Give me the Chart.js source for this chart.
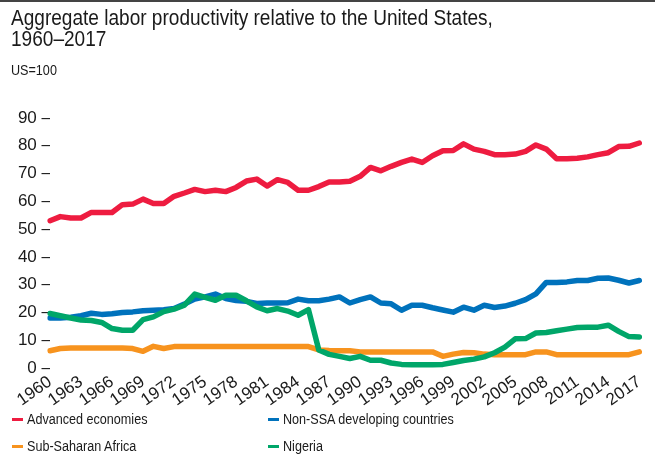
<!DOCTYPE html>
<html>
<head>
<meta charset="utf-8">
<script src="https://cdn.jsdelivr.net/npm/chart.js@4"></script>
<style>
  html, body { margin: 0; padding: 0; background: #fff; }
  #wrap { position: relative; width: 655px; height: 457px; overflow: hidden; font-family: "Liberation Sans", Arial, sans-serif; color: #1a1a1a; }
  #topline { position: absolute; left: 0; top: 0; width: 655px; height: 2px; background: #444; }
  .sq { transform-origin: 0 0; transform: scaleX(0.9); white-space: nowrap; }
  #title { position: absolute; left: 11px; top: 7px; font-size: 22px; line-height: 21px; transform: scaleX(0.866); }
  #sub { position: absolute; left: 11px; top: 62px; font-size: 14px; line-height: 16px; }
  canvas { position: absolute; left: 0; top: 0; }
  #legend { position: absolute; left: 12px; top: 411px; width: 643px; display: grid; grid-template-columns: 256px 380px; row-gap: 11px; font-size: 14px; line-height: 16px; }
  .item { display: flex; align-items: center; }
  .mk { display: inline-block; width: 11px; height: 3px; margin-right: 4px; flex: none; }
</style>
</head>
<body>
<div id="wrap">
  <div id="topline"></div>
  <canvas id="c" width="655" height="457"></canvas>
  <div id="title" class="sq">Aggregate labor productivity relative to the United States,<br>1960–2017</div>
  <div id="sub" class="sq">US=100</div>
  <div id="legend"></div>
</div>
<script>
const years = [];
for (let y = 1960; y <= 2017; y++) years.push(String(y));

const seriesNames = ["Advanced economies", "Non-SSA developing countries", "Sub-Saharan Africa", "Nigeria"];
const seriesColors = ["#EE1C40", "#0072BC", "#F7931E", "#00A669"];

const advanced = [53, 54.5, 54, 54, 56, 56, 56, 58.8, 59, 60.8, 59.2, 59.2, 61.8, 63, 64.3, 63.5, 64, 63.5, 65, 67.3,
  68, 65.5, 67.8, 66.8, 64, 64, 65.3, 67, 67, 67.2, 69, 72.2, 71, 72.6, 74, 75.2, 74, 76.4, 78.2, 78.3,
  80.7, 78.8, 78, 76.8, 76.8, 77, 78, 80.3, 78.8, 75.3, 75.3, 75.5, 76, 76.8, 77.5, 79.7, 79.8, 81];

const nonSSA = [18, 18, 18.3, 18.8, 19.7, 19.3, 19.5, 20, 20.2, 20.6, 20.8, 21, 21.4, 23, 24.8, 25.6, 26.6, 25, 24.3, 24,
  23.2, 23.4, 23.4, 23.5, 24.8, 24.2, 24.2, 24.8, 25.6, 23.4, 24.6, 25.6, 23.4, 23.1, 20.8, 22.6, 22.6, 21.7, 20.9, 20.1,
  21.9, 20.8, 22.6, 21.8, 22.3, 23.3, 24.6, 26.7, 30.8, 30.8, 31, 31.5, 31.5, 32.3, 32.4, 31.6, 30.6, 31.5];

const ssa = [6.2, 7, 7.2, 7.2, 7.2, 7.2, 7.2, 7.2, 7, 6, 7.8, 7, 7.7, 7.7, 7.7, 7.7, 7.7, 7.7, 7.7, 7.7,
  7.7, 7.7, 7.7, 7.7, 7.7, 7.7, 6.5, 6.3, 6.2, 6.2, 5.8, 5.8, 5.8, 5.8, 5.8, 5.8, 5.8, 5.8, 4.2, 5,
  5.6, 5.5, 5, 4.8, 4.8, 4.8, 4.8, 5.8, 5.8, 4.8, 4.8, 4.8, 4.8, 4.8, 4.8, 4.8, 4.8, 5.8];

const nigeria = [19.6, 18.8, 18, 17.3, 17.1, 16.4, 14.2, 13.6, 13.6, 17.4, 18.4, 20.3, 21.2, 22.6, 26.6, 25.4, 24.4, 26.2, 26.2, 24.2,
  22, 20.6, 21.4, 20.5, 19, 21, 6.5, 4.9, 4.2, 3.4, 4.2, 2.8, 2.8, 1.8, 1.3, 1.2, 1.2, 1.2, 1.3, 2,
  2.7, 3.2, 4, 5.5, 7.5, 10.5, 10.6, 12.6, 12.8, 13.4, 14, 14.6, 14.7, 14.7, 15.4, 13.2, 11.3, 11.2];

const yTicks = [0, 10, 20, 30, 40, 50, 60, 70, 80, 90];

const seriesData = [advanced, nonSSA, ssa, nigeria];
const drawOrder = [0, 3, 2, 1];

const FONT = '"Liberation Sans", Arial, sans-serif';

const chart = new Chart(document.getElementById('c'), {
  type: 'line',
  data: {
    labels: years,
    datasets: seriesData.map((d, i) => ({
      label: seriesNames[i],
      data: d,
      borderColor: seriesColors[i],
      backgroundColor: seriesColors[i],
      borderWidth: 5.5,
      pointRadius: 0,
      tension: 0,
      borderJoinStyle: 'round',
      borderCapStyle: 'round',
      order: drawOrder[i]
    }))
  },
  options: {
    responsive: false,
    animation: false,
    devicePixelRatio: 1,
    layout: { padding: { top: 118, right: 13, left: 0, bottom: 0 } },
    plugins: { legend: { display: false }, tooltip: { enabled: false }, title: { display: false } },
    scales: {
      x: {
        grid: { display: false, drawTicks: false },
        border: { display: false },
        afterFit: s => { s.height = 89; },
        ticks: {
          autoSkip: false,
          minRotation: 35,
          maxRotation: 35,
          padding: 4,
          color: '#1a1a1a',
          font: { family: FONT, size: 17 },
          callback: function (v, i) { return i % 3 === 0 ? years[i] : ''; }
        }
      },
      y: {
        min: 0,
        max: 90,
        grid: { display: false, drawTicks: false },
        border: { display: false },
        afterFit: s => { s.width = 50; },
        afterBuildTicks: s => { s.ticks = yTicks.map(v => ({ value: v })); },
        ticks: {
          padding: -1,
          color: '#1a1a1a',
          font: { family: FONT, size: 17 },
          callback: v => v + ' –'
        }
      }
    }
  }
});

const legend = document.getElementById('legend');
[0, 1, 2, 3].forEach(i => {
  const it = document.createElement('div');
  it.className = 'item';
  const mk = document.createElement('span');
  mk.className = 'mk';
  mk.style.background = seriesColors[i];
  const tx = document.createElement('span');
  tx.className = 'sq';
  tx.style.display = 'inline-block';
  tx.style.transformOrigin = '0 50%';
  tx.textContent = seriesNames[i];
  it.appendChild(mk);
  it.appendChild(tx);
  legend.appendChild(it);
});
</script>
</body>
</html>
